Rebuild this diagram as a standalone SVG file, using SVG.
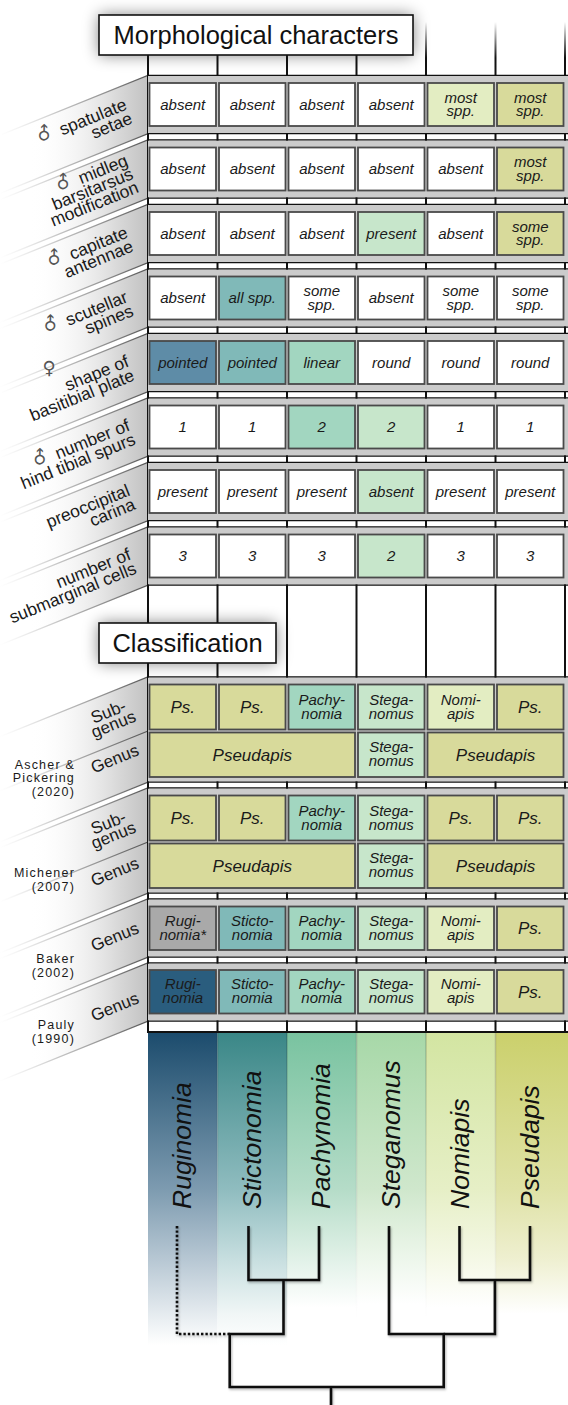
<svg xmlns="http://www.w3.org/2000/svg" width="568" height="1405" viewBox="0 0 568 1405">
<defs>
<style>
text{font-family:"Liberation Sans",Arial,Helvetica,sans-serif;fill:#1a1a1a}
.lbl{font-size:17.5px;text-anchor:end}
.lbc{font-size:17px;text-anchor:middle}
.sym{fill:#555;font-family:"DejaVu Sans",sans-serif;font-size:18px}
.ct{font-size:15px;font-style:italic;text-anchor:middle}
.cb{font-size:17px;font-style:italic;text-anchor:middle}
.ref{font-size:12.5px;letter-spacing:1.2px;text-anchor:end}
.ttl{font-size:25.5px;text-anchor:middle;fill:#111}
.tx{font-size:26.5px;font-style:italic;fill:#111}
.box{fill:#fff;stroke:#111;stroke-width:1.6}
.shelf{fill:#cbcbcb}
.cell{stroke:#4a4a4a;stroke-width:1.8}
.hl{stroke:#111;stroke-width:1.3;fill:none}
.vl{stroke:url(#vfade);stroke-width:2}
.band{fill:url(#bandG)}
.edge{stroke:url(#edgeG);stroke-width:1.3;fill:none}
.sep{stroke:url(#sepG);stroke-width:1.5}
.br{fill:none;stroke:#111;stroke-width:2.6;stroke-linejoin:miter}
.dot{fill:none;stroke:#111;stroke-width:2.6;stroke-dasharray:2.4 2}
.fW{fill:#fff}.fY{fill:#d8da9b}.fN{fill:#e3edc2}.fS{fill:#c7e6cb}.fP{fill:#a2d6c0}.fT{fill:#80b9b8}.fB{fill:#5e8ca7}.fG{fill:#a9a9a9}.fD{fill:#2a5d7e}
</style>
<filter id="blur" x="-30%" y="-80%" width="160%" height="260%"><feGaussianBlur stdDeviation="8"/></filter>
<filter id="ds" x="-5%" y="-5%" width="110%" height="110%"><feDropShadow dx="1" dy="1.5" stdDeviation="1" flood-color="#000" flood-opacity=".3"/></filter>
<linearGradient id="vfade" gradientUnits="userSpaceOnUse" x1="0" y1="22" x2="0" y2="58"><stop offset="0" stop-color="#111" stop-opacity="0"/><stop offset="1" stop-color="#111"/></linearGradient>
<linearGradient id="bandG" gradientUnits="userSpaceOnUse" x1="148" y1="0" x2="0" y2="0"><stop offset="0" stop-color="#c2c2c2"/><stop offset="0.2" stop-color="#d8d8d8"/><stop offset="0.45" stop-color="#ececec" stop-opacity=".7"/><stop offset="0.8" stop-color="#fff" stop-opacity="0"/></linearGradient>
<linearGradient id="edgeG" gradientUnits="userSpaceOnUse" x1="148" y1="0" x2="0" y2="0"><stop offset="0" stop-color="#555"/><stop offset="0.6" stop-color="#888" stop-opacity=".5"/><stop offset="1" stop-color="#bbb" stop-opacity="0"/></linearGradient>
<linearGradient id="sepG" gradientUnits="userSpaceOnUse" x1="0" y1="1033" x2="0" y2="1320"><stop offset="0" stop-color="#000" stop-opacity=".18"/><stop offset="1" stop-color="#000" stop-opacity="0"/></linearGradient>
<linearGradient id="gR" gradientUnits="userSpaceOnUse" x1="0" y1="1033" x2="0" y2="1345"><stop offset="0" stop-color="#1c4c6d"/><stop offset="0.5" stop-color="#7d9bb0"/><stop offset="0.73" stop-color="#b8c8d4"/><stop offset="0.92" stop-color="#eaeff2"/><stop offset="1" stop-color="#fff"/></linearGradient>
<linearGradient id="gS" gradientUnits="userSpaceOnUse" x1="0" y1="1033" x2="0" y2="1345"><stop offset="0" stop-color="#3a8787"/><stop offset="0.5" stop-color="#8fbcbf"/><stop offset="0.73" stop-color="#c8dfe0"/><stop offset="0.9" stop-color="#f0f6f6"/><stop offset="1" stop-color="#fff"/></linearGradient>
<linearGradient id="gP" gradientUnits="userSpaceOnUse" x1="0" y1="1033" x2="0" y2="1345"><stop offset="0" stop-color="#79c3a0"/><stop offset="0.5" stop-color="#b5dcc8"/><stop offset="0.7" stop-color="#dcefe4"/><stop offset="0.88" stop-color="#fff"/></linearGradient>
<linearGradient id="gT" gradientUnits="userSpaceOnUse" x1="0" y1="1033" x2="0" y2="1345"><stop offset="0" stop-color="#a7d8a8"/><stop offset="0.5" stop-color="#cfe7cc"/><stop offset="0.7" stop-color="#eaf5e8"/><stop offset="0.87" stop-color="#fff"/></linearGradient>
<linearGradient id="gN" gradientUnits="userSpaceOnUse" x1="0" y1="1033" x2="0" y2="1345"><stop offset="0" stop-color="#d3e5a2"/><stop offset="0.5" stop-color="#e6efc6"/><stop offset="0.7" stop-color="#f3f7e2"/><stop offset="0.88" stop-color="#fff"/></linearGradient>
<linearGradient id="gY" gradientUnits="userSpaceOnUse" x1="0" y1="1033" x2="0" y2="1345"><stop offset="0" stop-color="#cbd06c"/><stop offset="0.5" stop-color="#dfe2a6"/><stop offset="0.72" stop-color="#eeefcf"/><stop offset="0.9" stop-color="#fff"/></linearGradient>
</defs>
<rect width="568" height="1405" fill="#fff"/>

<g id="box-shadows">
<rect x="99" y="15" width="314" height="40" fill="#000" opacity=".5" filter="url(#blur)"/>
<rect x="99" y="623" width="177" height="40" fill="#000" opacity=".5" filter="url(#blur)"/>
</g>

<g id="label-bands">
<polygon class="band" points="148,76 148,133 0,192.8 0,135.8"/>
<polygon class="band" points="148,140.5 148,197.5 0,257.3 0,200.3"/>
<polygon class="band" points="148,205 148,262 0,321.8 0,264.8"/>
<polygon class="band" points="148,269.5 148,326.5 0,386.3 0,329.3"/>
<polygon class="band" points="148,334 148,391 0,450.8 0,393.8"/>
<polygon class="band" points="148,398.5 148,455.5 0,515.3 0,458.3"/>
<polygon class="band" points="148,463 148,520 0,579.8 0,522.8"/>
<polygon class="band" points="148,527.5 148,584.5 0,644.3 0,587.3"/>
<polygon class="band" points="148,677.5 148,781.5 0,841.3 0,737.3"/>
<polygon class="band" points="148,788.5 148,892.5 0,952.3 0,848.3"/>
<polygon class="band" points="148,899.5 148,956.5 0,1016.3 0,959.3"/>
<polygon class="band" points="148,963.5 148,1020.5 0,1080.3 0,1023.3"/>
<path class="edge" d="M148,75.4 L0,135.2 M148,133.6 L0,193.4 M148,139.9 L0,199.7 M148,198.1 L0,257.9 M148,204.4 L0,264.2 M148,262.6 L0,322.4 M148,268.9 L0,328.7 M148,327.1 L0,386.9 M148,333.4 L0,393.2 M148,391.6 L0,451.4 M148,397.9 L0,457.7 M148,456.1 L0,515.9 M148,462.4 L0,522.2 M148,520.6 L0,580.4 M148,526.9 L0,586.7 M148,585.1 L0,644.9 M148,676.9 L0,736.7 M148,731 L0,790.8 M148,782.1 L0,841.9 M148,787.9 L0,847.7 M148,842 L0,901.8 M148,893.1 L0,952.9 M148,898.9 L0,958.7 M148,957.1 L0,1016.9 M148,962.9 L0,1022.7 M148,1021.1 L0,1080.9"/>
</g>

<g id="grid-lines">
<path class="vl" d="M148,22 V1033 M217.5,22 V1033 M287,22 V1033 M356.5,22 V1033 M426,22 V1033 M495.5,22 V1033 M565,22 V1033"/>
</g>

<g id="shelves">
<rect class="shelf" x="148" y="76" width="420" height="57"/>
<rect class="shelf" x="148" y="140.5" width="420" height="57"/>
<rect class="shelf" x="148" y="205" width="420" height="57"/>
<rect class="shelf" x="148" y="269.5" width="420" height="57"/>
<rect class="shelf" x="148" y="334" width="420" height="57"/>
<rect class="shelf" x="148" y="398.5" width="420" height="57"/>
<rect class="shelf" x="148" y="463" width="420" height="57"/>
<rect class="shelf" x="148" y="527.5" width="420" height="57"/>
<rect class="shelf" x="148" y="677.5" width="420" height="104"/>
<rect class="shelf" x="148" y="788.5" width="420" height="104"/>
<rect class="shelf" x="148" y="899.5" width="420" height="57"/>
<rect class="shelf" x="148" y="963.5" width="420" height="57"/>
<path class="hl" d="M148,75.4H568 M148,133.6H568 M148,139.9H568 M148,198.1H568 M148,204.4H568 M148,262.6H568 M148,268.9H568 M148,327.1H568 M148,333.4H568 M148,391.6H568 M148,397.9H568 M148,456.1H568 M148,462.4H568 M148,520.6H568 M148,526.9H568 M148,585.1H568 M148,676.9H568 M148,782.1H568 M148,787.9H568 M148,893.1H568 M148,898.9H568 M148,957.1H568 M148,962.9H568 M148,1021.1H568"/>
<path d="M148,1032H568" stroke="#111" stroke-width="2.2"/>
</g>

<g id="title-morph">
<rect class="box" x="99" y="15" width="314" height="40"/>
<text class="ttl" x="256" y="44">Morphological characters</text>
</g>
<g id="title-class">
<rect class="box" x="99" y="623" width="177" height="40"/>
<text class="ttl" x="187.5" y="652">Classification</text>
</g>

<g id="morph-labels">
<text class="lbl" transform="translate(128,109) rotate(-22)"><tspan class="sym" rotate="-23">♂</tspan> spatulate<tspan x="0" y="15">setae</tspan></text>
<text class="lbl" transform="translate(129,165) rotate(-22)"><tspan class="sym" rotate="-23">♂</tspan> midleg<tspan x="0" y="14.5">barsitarsus</tspan><tspan x="0" y="29">modification</tspan></text>
<text class="lbl" transform="translate(129,237) rotate(-22)"><tspan class="sym" rotate="-23">♂</tspan> capitate<tspan x="0" y="15">antennae</tspan></text>
<text class="lbl" transform="translate(129,301.5) rotate(-22)"><tspan class="sym" rotate="-23">♂</tspan> scutellar<tspan x="0" y="15">spines</tspan></text>
<text class="sym" x="49" y="374" text-anchor="middle">♀</text>
<text class="lbl" transform="translate(130,366) rotate(-22)">shape of<tspan x="0" y="15">basitibial plate</tspan></text>
<text class="lbl" transform="translate(131,430) rotate(-22)"><tspan class="sym" rotate="-23">♂</tspan> number of<tspan x="0" y="15">hind tibial spurs</tspan></text>
<text class="lbl" transform="translate(131,495) rotate(-22)">preoccipital<tspan x="0" y="15">carina</tspan></text>
<text class="lbl" transform="translate(132,559) rotate(-22)">number of<tspan x="0" y="15">submarginal cells</tspan></text>
</g>

<g id="class-labels">
<text class="lbc" transform="translate(110.5,717) rotate(-22)">Sub-<tspan x="0" y="13.5">genus</tspan></text>
<text class="lbc" transform="translate(117,764) rotate(-22)">Genus</text>
<text class="lbc" transform="translate(110.5,828) rotate(-22)">Sub-<tspan x="0" y="13.5">genus</tspan></text>
<text class="lbc" transform="translate(117,877) rotate(-22)">Genus</text>
<text class="lbc" transform="translate(117,942) rotate(-22)">Genus</text>
<text class="lbc" transform="translate(117,1012) rotate(-22)">Genus</text>
<text class="ref" x="75" y="768.5">Ascher &amp;<tspan x="75" y="782">Pickering</tspan><tspan x="75" y="795.5">(2020)</tspan></text>
<text class="ref" x="75" y="877">Michener<tspan x="75" y="891">(2007)</tspan></text>
<text class="ref" x="75" y="963">Baker<tspan x="75" y="977">(2002)</tspan></text>
<text class="ref" x="75" y="1028.5">Pauly<tspan x="75" y="1042.5">(1990)</tspan></text>
</g>

<g id="row-spatulate-setae">
<g id="m1-rug"><rect class="cell fW" x="149.5" y="83" width="66.5" height="43"/><text class="ct" x="182.75" y="109.5">absent</text></g>
<g id="m1-sti"><rect class="cell fW" x="219" y="83" width="66.5" height="43"/><text class="ct" x="252.25" y="109.5">absent</text></g>
<g id="m1-pac"><rect class="cell fW" x="288.5" y="83" width="66.5" height="43"/><text class="ct" x="321.75" y="109.5">absent</text></g>
<g id="m1-ste"><rect class="cell fW" x="358" y="83" width="66.5" height="43"/><text class="ct" x="391.25" y="109.5">absent</text></g>
<g id="m1-nom"><rect class="cell fN" x="427.5" y="83" width="66.5" height="43"/><text class="ct" x="460.75" y="102.5">most<tspan x="460.75" y="116">spp.</tspan></text></g>
<g id="m1-pse"><rect class="cell fY" x="497" y="83" width="66.5" height="43"/><text class="ct" x="530.25" y="102.5">most<tspan x="530.25" y="116">spp.</tspan></text></g>
</g>
<g id="row-midleg">
<g id="m2-rug"><rect class="cell fW" x="149.5" y="147.5" width="66.5" height="43"/><text class="ct" x="182.75" y="174">absent</text></g>
<g id="m2-sti"><rect class="cell fW" x="219" y="147.5" width="66.5" height="43"/><text class="ct" x="252.25" y="174">absent</text></g>
<g id="m2-pac"><rect class="cell fW" x="288.5" y="147.5" width="66.5" height="43"/><text class="ct" x="321.75" y="174">absent</text></g>
<g id="m2-ste"><rect class="cell fW" x="358" y="147.5" width="66.5" height="43"/><text class="ct" x="391.25" y="174">absent</text></g>
<g id="m2-nom"><rect class="cell fW" x="427.5" y="147.5" width="66.5" height="43"/><text class="ct" x="460.75" y="174">absent</text></g>
<g id="m2-pse"><rect class="cell fY" x="497" y="147.5" width="66.5" height="43"/><text class="ct" x="530.25" y="167">most<tspan x="530.25" y="180.5">spp.</tspan></text></g>
</g>
<g id="row-capitate">
<g id="m3-rug"><rect class="cell fW" x="149.5" y="212" width="66.5" height="43"/><text class="ct" x="182.75" y="238.5">absent</text></g>
<g id="m3-sti"><rect class="cell fW" x="219" y="212" width="66.5" height="43"/><text class="ct" x="252.25" y="238.5">absent</text></g>
<g id="m3-pac"><rect class="cell fW" x="288.5" y="212" width="66.5" height="43"/><text class="ct" x="321.75" y="238.5">absent</text></g>
<g id="m3-ste"><rect class="cell fS" x="358" y="212" width="66.5" height="43"/><text class="ct" x="391.25" y="238.5">present</text></g>
<g id="m3-nom"><rect class="cell fW" x="427.5" y="212" width="66.5" height="43"/><text class="ct" x="460.75" y="238.5">absent</text></g>
<g id="m3-pse"><rect class="cell fY" x="497" y="212" width="66.5" height="43"/><text class="ct" x="530.25" y="231.5">some<tspan x="530.25" y="245">spp.</tspan></text></g>
</g>
<g id="row-scutellar">
<g id="m4-rug"><rect class="cell fW" x="149.5" y="276.5" width="66.5" height="43"/><text class="ct" x="182.75" y="303">absent</text></g>
<g id="m4-sti"><rect class="cell fT" x="219" y="276.5" width="66.5" height="43"/><text class="ct" x="252.25" y="303">all spp.</text></g>
<g id="m4-pac"><rect class="cell fW" x="288.5" y="276.5" width="66.5" height="43"/><text class="ct" x="321.75" y="296">some<tspan x="321.75" y="309.5">spp.</tspan></text></g>
<g id="m4-ste"><rect class="cell fW" x="358" y="276.5" width="66.5" height="43"/><text class="ct" x="391.25" y="303">absent</text></g>
<g id="m4-nom"><rect class="cell fW" x="427.5" y="276.5" width="66.5" height="43"/><text class="ct" x="460.75" y="296">some<tspan x="460.75" y="309.5">spp.</tspan></text></g>
<g id="m4-pse"><rect class="cell fW" x="497" y="276.5" width="66.5" height="43"/><text class="ct" x="530.25" y="296">some<tspan x="530.25" y="309.5">spp.</tspan></text></g>
</g>
<g id="row-basitibial">
<g id="m5-rug"><rect class="cell fB" x="149.5" y="341" width="66.5" height="43"/><text class="ct" x="182.75" y="367.5">pointed</text></g>
<g id="m5-sti"><rect class="cell fT" x="219" y="341" width="66.5" height="43"/><text class="ct" x="252.25" y="367.5">pointed</text></g>
<g id="m5-pac"><rect class="cell fP" x="288.5" y="341" width="66.5" height="43"/><text class="ct" x="321.75" y="367.5">linear</text></g>
<g id="m5-ste"><rect class="cell fW" x="358" y="341" width="66.5" height="43"/><text class="ct" x="391.25" y="367.5">round</text></g>
<g id="m5-nom"><rect class="cell fW" x="427.5" y="341" width="66.5" height="43"/><text class="ct" x="460.75" y="367.5">round</text></g>
<g id="m5-pse"><rect class="cell fW" x="497" y="341" width="66.5" height="43"/><text class="ct" x="530.25" y="367.5">round</text></g>
</g>
<g id="row-tibial-spurs">
<g id="m6-rug"><rect class="cell fW" x="149.5" y="405.5" width="66.5" height="43"/><text class="ct" x="182.75" y="432.3">1</text></g>
<g id="m6-sti"><rect class="cell fW" x="219" y="405.5" width="66.5" height="43"/><text class="ct" x="252.25" y="432.3">1</text></g>
<g id="m6-pac"><rect class="cell fP" x="288.5" y="405.5" width="66.5" height="43"/><text class="ct" x="321.75" y="432.3">2</text></g>
<g id="m6-ste"><rect class="cell fS" x="358" y="405.5" width="66.5" height="43"/><text class="ct" x="391.25" y="432.3">2</text></g>
<g id="m6-nom"><rect class="cell fW" x="427.5" y="405.5" width="66.5" height="43"/><text class="ct" x="460.75" y="432.3">1</text></g>
<g id="m6-pse"><rect class="cell fW" x="497" y="405.5" width="66.5" height="43"/><text class="ct" x="530.25" y="432.3">1</text></g>
</g>
<g id="row-preoccipital">
<g id="m7-rug"><rect class="cell fW" x="149.5" y="470" width="66.5" height="43"/><text class="ct" x="182.75" y="496.5">present</text></g>
<g id="m7-sti"><rect class="cell fW" x="219" y="470" width="66.5" height="43"/><text class="ct" x="252.25" y="496.5">present</text></g>
<g id="m7-pac"><rect class="cell fW" x="288.5" y="470" width="66.5" height="43"/><text class="ct" x="321.75" y="496.5">present</text></g>
<g id="m7-ste"><rect class="cell fS" x="358" y="470" width="66.5" height="43"/><text class="ct" x="391.25" y="496.5">absent</text></g>
<g id="m7-nom"><rect class="cell fW" x="427.5" y="470" width="66.5" height="43"/><text class="ct" x="460.75" y="496.5">present</text></g>
<g id="m7-pse"><rect class="cell fW" x="497" y="470" width="66.5" height="43"/><text class="ct" x="530.25" y="496.5">present</text></g>
</g>
<g id="row-submarginal">
<g id="m8-rug"><rect class="cell fW" x="149.5" y="534.5" width="66.5" height="43"/><text class="ct" x="182.75" y="561.3">3</text></g>
<g id="m8-sti"><rect class="cell fW" x="219" y="534.5" width="66.5" height="43"/><text class="ct" x="252.25" y="561.3">3</text></g>
<g id="m8-pac"><rect class="cell fW" x="288.5" y="534.5" width="66.5" height="43"/><text class="ct" x="321.75" y="561.3">3</text></g>
<g id="m8-ste"><rect class="cell fS" x="358" y="534.5" width="66.5" height="43"/><text class="ct" x="391.25" y="561.3">2</text></g>
<g id="m8-nom"><rect class="cell fW" x="427.5" y="534.5" width="66.5" height="43"/><text class="ct" x="460.75" y="561.3">3</text></g>
<g id="m8-pse"><rect class="cell fW" x="497" y="534.5" width="66.5" height="43"/><text class="ct" x="530.25" y="561.3">3</text></g>
</g>

<g id="ascher-subgenus">
<g id="a-sub-1"><rect class="cell fY" x="149.5" y="684.5" width="66.5" height="45"/><text class="cb" x="182.75" y="713">Ps.</text></g>
<g id="a-sub-2"><rect class="cell fY" x="219" y="684.5" width="66.5" height="45"/><text class="cb" x="252.25" y="713">Ps.</text></g>
<g id="a-sub-3"><rect class="cell fP" x="288.5" y="684.5" width="66.5" height="45"/><text class="ct" x="321.75" y="704.5">Pachy-<tspan x="321.75" y="718.5">nomia</tspan></text></g>
<g id="a-sub-4"><rect class="cell fS" x="358" y="684.5" width="66.5" height="45"/><text class="ct" x="391.25" y="704.5">Stega-<tspan x="391.25" y="718.5">nomus</tspan></text></g>
<g id="a-sub-5"><rect class="cell fN" x="427.5" y="684.5" width="66.5" height="45"/><text class="ct" x="460.75" y="704.5">Nomi-<tspan x="460.75" y="718.5">apis</tspan></text></g>
<g id="a-sub-6"><rect class="cell fY" x="497" y="684.5" width="66.5" height="45"/><text class="cb" x="530.25" y="713">Ps.</text></g>
</g>
<g id="ascher-genus">
<g id="a-gen-1"><rect class="cell fY" x="149.5" y="732.5" width="205.5" height="44.5"/><text class="cb" x="252.25" y="760.5">Pseudapis</text></g>
<g id="a-gen-2"><rect class="cell fS" x="358" y="732.5" width="66.5" height="44.5"/><text class="ct" x="391.25" y="752.3">Stega-<tspan x="391.25" y="766.3">nomus</tspan></text></g>
<g id="a-gen-3"><rect class="cell fY" x="427.5" y="732.5" width="136" height="44.5"/><text class="cb" x="495.5" y="760.5">Pseudapis</text></g>
</g>
<g id="michener-subgenus">
<g id="mi-sub-1"><rect class="cell fY" x="149.5" y="795.5" width="66.5" height="45"/><text class="cb" x="182.75" y="824">Ps.</text></g>
<g id="mi-sub-2"><rect class="cell fY" x="219" y="795.5" width="66.5" height="45"/><text class="cb" x="252.25" y="824">Ps.</text></g>
<g id="mi-sub-3"><rect class="cell fP" x="288.5" y="795.5" width="66.5" height="45"/><text class="ct" x="321.75" y="815.5">Pachy-<tspan x="321.75" y="829.5">nomia</tspan></text></g>
<g id="mi-sub-4"><rect class="cell fS" x="358" y="795.5" width="66.5" height="45"/><text class="ct" x="391.25" y="815.5">Stega-<tspan x="391.25" y="829.5">nomus</tspan></text></g>
<g id="mi-sub-5"><rect class="cell fY" x="427.5" y="795.5" width="66.5" height="45"/><text class="cb" x="460.75" y="824">Ps.</text></g>
<g id="mi-sub-6"><rect class="cell fY" x="497" y="795.5" width="66.5" height="45"/><text class="cb" x="530.25" y="824">Ps.</text></g>
</g>
<g id="michener-genus">
<g id="mi-gen-1"><rect class="cell fY" x="149.5" y="843.5" width="205.5" height="44.5"/><text class="cb" x="252.25" y="871.5">Pseudapis</text></g>
<g id="mi-gen-2"><rect class="cell fS" x="358" y="843.5" width="66.5" height="44.5"/><text class="ct" x="391.25" y="863.3">Stega-<tspan x="391.25" y="877.3">nomus</tspan></text></g>
<g id="mi-gen-3"><rect class="cell fY" x="427.5" y="843.5" width="136" height="44.5"/><text class="cb" x="495.5" y="871.5">Pseudapis</text></g>
</g>
<g id="baker-genus">
<g id="b-1"><rect class="cell fG" x="149.5" y="906.5" width="66.5" height="43.5"/><text class="ct" x="182.75" y="925.8">Rugi-<tspan x="182.75" y="939.8">nomia*</tspan></text></g>
<g id="b-2"><rect class="cell fT" x="219" y="906.5" width="66.5" height="43.5"/><text class="ct" x="252.25" y="925.8">Sticto-<tspan x="252.25" y="939.8">nomia</tspan></text></g>
<g id="b-3"><rect class="cell fP" x="288.5" y="906.5" width="66.5" height="43.5"/><text class="ct" x="321.75" y="925.8">Pachy-<tspan x="321.75" y="939.8">nomia</tspan></text></g>
<g id="b-4"><rect class="cell fS" x="358" y="906.5" width="66.5" height="43.5"/><text class="ct" x="391.25" y="925.8">Stega-<tspan x="391.25" y="939.8">nomus</tspan></text></g>
<g id="b-5"><rect class="cell fN" x="427.5" y="906.5" width="66.5" height="43.5"/><text class="ct" x="460.75" y="925.8">Nomi-<tspan x="460.75" y="939.8">apis</tspan></text></g>
<g id="b-6"><rect class="cell fY" x="497" y="906.5" width="66.5" height="43.5"/><text class="cb" x="530.25" y="934.3">Ps.</text></g>
</g>
<g id="pauly-genus">
<g id="p-1"><rect class="cell fD" x="149.5" y="970" width="66.5" height="43.5"/><text class="ct" x="182.75" y="989.3">Rugi-<tspan x="182.75" y="1003.3">nomia</tspan></text></g>
<g id="p-2"><rect class="cell fT" x="219" y="970" width="66.5" height="43.5"/><text class="ct" x="252.25" y="989.3">Sticto-<tspan x="252.25" y="1003.3">nomia</tspan></text></g>
<g id="p-3"><rect class="cell fP" x="288.5" y="970" width="66.5" height="43.5"/><text class="ct" x="321.75" y="989.3">Pachy-<tspan x="321.75" y="1003.3">nomia</tspan></text></g>
<g id="p-4"><rect class="cell fS" x="358" y="970" width="66.5" height="43.5"/><text class="ct" x="391.25" y="989.3">Stega-<tspan x="391.25" y="1003.3">nomus</tspan></text></g>
<g id="p-5"><rect class="cell fN" x="427.5" y="970" width="66.5" height="43.5"/><text class="ct" x="460.75" y="989.3">Nomi-<tspan x="460.75" y="1003.3">apis</tspan></text></g>
<g id="p-6"><rect class="cell fY" x="497" y="970" width="66.5" height="43.5"/><text class="cb" x="530.25" y="997.8">Ps.</text></g>
</g>

<g id="tree-columns">
<g id="ruginomia"><rect x="148" y="1033" width="69.5" height="312" fill="url(#gR)"/><text class="tx" transform="translate(191.25,1209) rotate(-90)">Ruginomia</text></g>
<g id="stictonomia"><rect x="217.5" y="1033" width="69.5" height="312" fill="url(#gS)"/><text class="tx" transform="translate(260.75,1209) rotate(-90)">Stictonomia</text></g>
<g id="pachynomia"><rect x="287" y="1033" width="69.5" height="312" fill="url(#gP)"/><text class="tx" transform="translate(330.25,1209) rotate(-90)">Pachynomia</text></g>
<g id="steganomus"><rect x="356.5" y="1033" width="69.5" height="312" fill="url(#gT)"/><text class="tx" transform="translate(399.75,1209) rotate(-90)">Steganomus</text></g>
<g id="nomiapis"><rect x="426" y="1033" width="69.5" height="312" fill="url(#gN)"/><text class="tx" transform="translate(469.25,1209) rotate(-90)">Nomiapis</text></g>
<g id="pseudapis"><rect x="495.5" y="1033" width="72.5" height="312" fill="url(#gY)"/><text class="tx" transform="translate(538.75,1209) rotate(-90)">Pseudapis</text></g>
<path class="sep" d="M217.5,1033V1320 M287,1033V1320 M356.5,1033V1320 M426,1033V1320 M495.5,1033V1320"/>
</g>

<g id="connectors" filter="url(#ds)">
<path class="dot" d="M177,1226 V1334 H229.7"/>
<path class="br" d="M248.5,1226 V1280 H319 V1226"/>
<path class="br" d="M283.5,1280 V1334 H229.7 V1387 H443.7 V1334 H389 V1226"/>
<path class="br" d="M459.5,1226 V1280 H530 V1226"/>
<path class="br" d="M494.9,1280 V1334 H443.7"/>
<path class="br" d="M331,1387 V1405"/>
</g>
</svg>
